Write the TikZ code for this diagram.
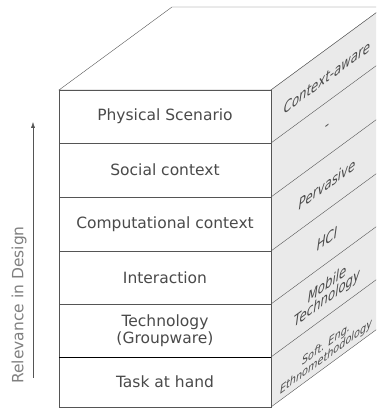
\documentclass[tikz,border=0pt]{standalone}
\usepackage{fontspec}
\setmainfont{DejaVu Sans}
\usetikzlibrary{arrows.meta}

\definecolor{edgegray}{HTML}{555555}
\definecolor{textgray}{HTML}{4A4A4A}
\definecolor{sidegray}{HTML}{EAEAEA}

\tikzset{
  layer/.style={font=\fontsize{15.5}{17}\selectfont, text=textgray, align=center},
  facelabel/.style={font=\itshape\fontsize{15}{14}\selectfont, text=textgray, yslant=0.735, xscale=0.78, align=center, inner sep=0pt},
  smalllabel/.style={facelabel, font=\itshape\fontsize{11.5}{11}\selectfont, xscale=1.08},
}

\begin{document}
\begin{tikzpicture}[x=1pt,y=1pt]
  \useasboundingbox (0,0) rectangle (376,409);
  \clip (0,0) rectangle (376,409);

  % Cara superior
  \draw[edgegray, fill=white] (59,319) -- (172,402) -- (384,402) -- (271,319) -- cycle;
  % Cara lateral
  \draw[edgegray, fill=sidegray] (271,319) -- (384,402) -- (384,85) -- (271,2) -- cycle;
  % Cara frontal
  \draw[edgegray, fill=white] (59,2) rectangle (271,319);

  % Divisiones
  \foreach \y in {266,212,158,105} {
    \draw[edgegray] (59,\y) -- (271,\y);
    \draw[edgegray] (271,\y) -- ++(113,83);
  }
  \draw[black, semithick] (59,52) -- (271,52);
  \draw[edgegray] (271,52) -- ++(113,83);

  % Capas
  \node[layer] (physical) at (165,292.5) {Physical Scenario};
  \node[layer] (social) at (165,239) {Social context};
  \node[layer] (computational) at (165,185) {Computational context};
  \node[layer] (interaction) at (165,131.5) {Interaction};
  \node[layer] (technology) at (165,78.5) {Technology\\(Groupware)};
  \node[layer] (task) at (165,27) {Task at hand};

  % Etiquetas laterales
  \node[facelabel] (ctxaware) at (327,332) {Context-aware};
  \node[facelabel] (dash) at (327,281) {-};
  \node[facelabel] (pervasive) at (327,225) {Pervasive};
  \node[facelabel] (hci) at (327,170) {HCI};
  \node[facelabel] (mobile) at (327,117) {Mobile\\Technology};
  \node[smalllabel] (softeng) at (326,58) {Soft. Eng.\\Ethnomethodology};

  % Relevancia
  \coordinate (arrowbot) at (33,31);
  \coordinate (arrowtop) at (33,287);
  \draw[edgegray, -{Latex[length=6pt,width=4pt]}] (arrowbot) -- (arrowtop);
  \node[layer, text=gray, rotate=90] (relevance) at (19,104) {Relevance in Design};
\end{tikzpicture}
\end{document}
